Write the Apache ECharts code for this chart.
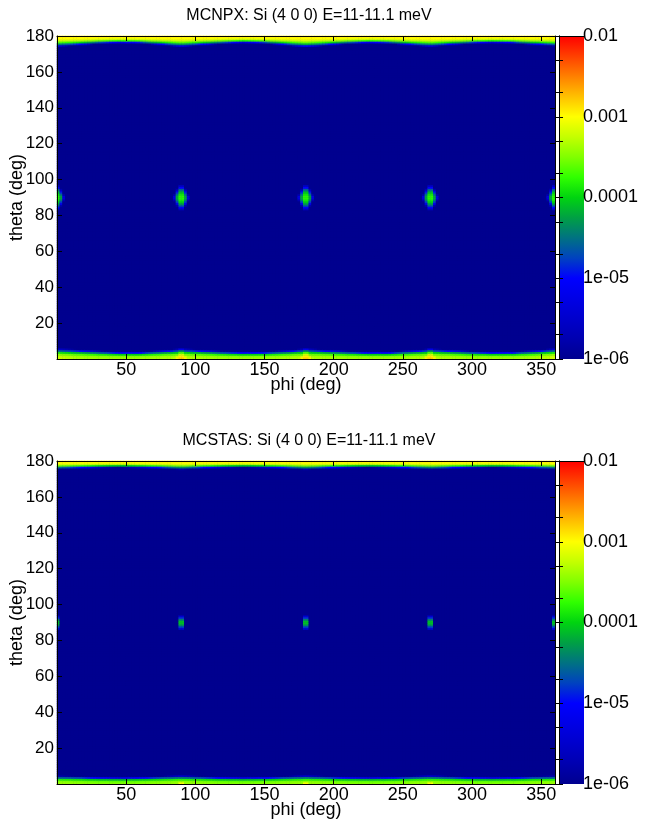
<!DOCTYPE html>
<html>
<head>
<meta charset="utf-8">
<script src="https://cdn.jsdelivr.net/npm/echarts@6/dist/echarts.min.js"></script>
<style>
  html, body { margin: 0; padding: 0; background: #fff; }
  #chart { width: 650px; height: 825px; }
</style>
</head>
<body>
<div id="chart"></div>
<script>
// colour scale is log10 of the intensity, 1e-06 .. 0.01
const logMin = -6, logMax = -2;
const background = -6.05;
const colorbarLabels = ['1e-06', '1e-05', '0.0001', '0.001', '0.01'];
const colorbarMinor = [-6, -5.699, -5.301, -5, -4.699, -4.301, -4, -3.699, -3.301, -3, -2.699, -2.301, -2];
const jetColors = ['#00008f', '#0000b0', '#0000cc', '#0000e6', '#0000ff', '#0042c0', '#007282', '#00a044',
  '#00d410', '#30ff00', '#80ff00', '#c4ff00', '#ffff00', '#ffc000', '#ff8000', '#ff4000', '#ff0000'];

const titles = ['MCNPX: Si (4 0 0) E=11-11.1 meV', 'MCSTAS: Si (4 0 0) E=11-11.1 meV'];

// band profiles near theta=180 / theta=0, sampled every 15 deg of phi (depth in deg, peak in log10)
const phiKnots = [0, 15, 30, 45, 60, 75, 90, 105, 120, 135, 150, 165, 180, 195, 210, 225, 240, 255, 270, 285, 300, 315, 330, 345, 360];
const mcnpxTopDepth = [5.5, 4.8, 3.8, 3.4, 3.6, 4.6, 5.6, 4.7, 3.8, 3.3, 3.7, 4.8, 5.8, 4.9, 3.9, 3.4, 3.7, 4.7, 5.5, 4.6, 3.7, 3.3, 3.6, 4.5, 5.2];
const mcnpxTopPeak = [-2.95, -2.95, -2.95, -2.95, -2.95, -2.95, -2.95, -2.95, -2.95, -2.95, -2.95, -2.95, -2.95, -2.95, -2.95, -2.95, -2.95, -2.95, -2.95, -2.95, -2.95, -2.95, -2.95, -2.95, -2.95];
const mcnpxBottomDepth = [5.5, 5.0, 4.2, 3.6, 3.6, 4.4, 5.5, 4.8, 4.0, 3.6, 3.7, 4.4, 5.5, 4.8, 4.1, 3.6, 3.6, 4.4, 5.4, 4.8, 4.0, 3.6, 3.7, 4.5, 5.5];
const mcnpxBottomPeak = [-3.2, -3.35, -3.4, -3.4, -3.4, -3.35, -3.3, -3.35, -3.4, -3.4, -3.4, -3.35, -3.3, -3.35, -3.4, -3.4, -3.4, -3.35, -3.3, -3.35, -3.4, -3.4, -3.4, -3.35, -3.2];
const mcstasTopDepth = [4.0, 3.6, 3.2, 3.0, 3.2, 3.6, 4.2, 3.6, 3.2, 3.0, 3.2, 3.6, 4.2, 3.6, 3.2, 3.0, 3.2, 3.6, 4.1, 3.6, 3.2, 3.0, 3.2, 3.6, 4.0];
const mcstasTopPeak = [-2.95, -2.95, -2.95, -2.95, -2.95, -2.95, -2.95, -2.95, -2.95, -2.95, -2.95, -2.95, -2.95, -2.95, -2.95, -2.95, -2.95, -2.95, -2.95, -2.95, -2.95, -2.95, -2.95, -2.95, -2.95];
const mcstasBottomDepth = [4.2, 4.0, 3.6, 3.4, 3.6, 4.0, 4.4, 4.0, 3.6, 3.4, 3.6, 4.0, 4.4, 4.0, 3.6, 3.4, 3.6, 4.0, 4.4, 4.0, 3.6, 3.4, 3.6, 4.0, 4.2];
const mcstasBottomPeak = [-3.4, -3.45, -3.5, -3.5, -3.5, -3.45, -3.4, -3.45, -3.5, -3.5, -3.5, -3.45, -3.4, -3.45, -3.5, -3.5, -3.5, -3.45, -3.4, -3.45, -3.5, -3.5, -3.5, -3.45, -3.4];

// spots: [phi, theta, peak log10, half width phi, half width theta]
const mcnpxSpots = [
  [0, 90, -3.75, 6, 8], [90, 90, -3.75, 6, 8], [180, 90, -3.75, 6, 8], [270, 90, -3.75, 6, 8], [360, 90, -3.75, 6, 8],
  [90, 0, -2.8, 12, 6.5], [180, 0, -2.8, 12, 6.5], [270, 0, -2.8, 12, 6.5]
];
const mcstasSpots = [
  [0, 90, -3.9, 3, 5.5], [90, 90, -3.9, 3, 5.5], [180, 90, -3.9, 3, 5.5], [270, 90, -3.9, 3, 5.5], [360, 90, -3.9, 3, 5.5],
  [90, 0, -2.9, 6, 4], [180, 0, -2.9, 6, 4], [270, 0, -2.9, 6, 4]
];

const phiStep = 2, thetaStep = 1;
const phiCentres = [], thetaCentres = [];
for (let p = phiStep / 2; p < 360; p += phiStep) phiCentres.push(p);
for (let t = thetaStep / 2; t < 180; t += thetaStep) thetaCentres.push(t);

function atPhi(arr, phi) {
  const step = phiKnots[1] - phiKnots[0];
  const i = Math.min(Math.floor(phi / step), phiKnots.length - 2);
  const f = (phi - phiKnots[i]) / step;
  return arr[i] * (1 - f) + arr[i + 1] * f;
}
function falloff(peak, t) {
  if (t >= 1) return background;
  return peak - (peak - background) * Math.pow(t, 2.5);
}
function buildField(d) {
  const out = [];
  phiCentres.forEach((phi, i) => {
    const tDepth = atPhi(d.topDepth, phi), tPeak = atPhi(d.topPeak, phi);
    const bDepth = atPhi(d.bottomDepth, phi), bPeak = atPhi(d.bottomPeak, phi);
    thetaCentres.forEach((th, j) => {
      let v = background;
      v = Math.max(v, falloff(tPeak, (180 - thetaStep / 2 - th) / tDepth));
      v = Math.max(v, falloff(bPeak, (th - thetaStep / 2) / bDepth));
      d.spots.forEach(s => {
        const dx = Math.abs(phi - s[0]) / s[3], dy = Math.abs(th - s[1]) / s[4];
        const t = Math.pow(Math.pow(dx, 1.2) + Math.pow(dy, 1.2), 1 / 1.2);
        v = Math.max(v, falloff(s[2], t));
      });
      out.push([i, j, v]);
    });
  });
  return out;
}

const fields = [
  buildField({topDepth: mcnpxTopDepth, topPeak: mcnpxTopPeak, bottomDepth: mcnpxBottomDepth, bottomPeak: mcnpxBottomPeak, spots: mcnpxSpots}),
  buildField({topDepth: mcstasTopDepth, topPeak: mcstasTopPeak, bottomDepth: mcstasBottomDepth, bottomPeak: mcstasBottomPeak, spots: mcstasSpots})
];

const font = 'Liberation Sans';
const plotLeft = 57, plotWidth = 498, cbLeft = 559, cbWidth = 25;
const plotTops = [36, 461], plotHeight = 323;

let option = {
  animation: false,
  title: [], grid: [], xAxis: [], yAxis: [], series: [], graphic: [],
  visualMap: {
    type: 'continuous', show: false, min: logMin, max: logMax, seriesIndex: [0, 1],
    inRange: { color: jetColors }
  }
};

const lineStyle = { color: '#000', width: 1 };
plotTops.forEach((top, g) => {
  option.title.push({
    text: titles[g], left: plotLeft + plotWidth / 2 - 2, textAlign: 'center', top: top - 33,
    textStyle: { fontFamily: font, fontSize: 16, fontWeight: 'normal', color: '#000' }
  });
  // navy background hides the hairline seams between heatmap cells
  option.grid.push({ left: plotLeft, top: top, width: plotWidth, height: plotHeight, outerBoundsMode: 'none',
    show: true, backgroundColor: jetColors[0], borderWidth: 0 });
  option.grid.push({ left: cbLeft, top: top, width: cbWidth, height: plotHeight, outerBoundsMode: 'none' });
  const pg = 2 * g, cg = 2 * g + 1;
  const x0 = option.xAxis.length, y0 = option.yAxis.length;
  // hidden category axes carry the heatmap cells
  option.xAxis.push({ type: 'category', gridIndex: pg, data: phiCentres.map(String), show: false });
  option.yAxis.push({ type: 'category', gridIndex: pg, data: thetaCentres.map(String), show: false });
  // visible value axes for ticks and labels
  option.xAxis.push({
    type: 'value', gridIndex: pg, min: 0, max: 360, interval: 50, position: 'bottom', z: 5,
    name: 'phi (deg)', nameLocation: 'middle', nameGap: 17, nameMoveOverlap: false,
    nameTextStyle: { fontFamily: font, fontSize: 18, color: '#000' },
    axisLine: { lineStyle }, splitLine: { show: false },
    axisTick: { inside: true, length: 5, lineStyle },
    axisLabel: { showMinLabel: false, showMaxLabel: false, margin: 2, fontFamily: font, fontSize: 18, color: '#000' }
  });
  option.xAxis.push({
    type: 'value', gridIndex: pg, min: 0, max: 360, interval: 50, position: 'top', z: 5,
    axisLine: { lineStyle }, splitLine: { show: false },
    axisTick: { inside: true, length: 5, lineStyle }, axisLabel: { show: false }
  });
  option.yAxis.push({
    type: 'value', gridIndex: pg, min: 0, max: 180, interval: 20, position: 'left', z: 5,
    name: 'theta (deg)', nameLocation: 'middle', nameGap: 31, nameMoveOverlap: false,
    nameTextStyle: { fontFamily: font, fontSize: 18, color: '#000' },
    axisLine: { lineStyle }, splitLine: { show: false },
    axisTick: { inside: true, length: 5, lineStyle },
    axisLabel: { showMinLabel: false, margin: 3, fontFamily: font, fontSize: 17, color: '#000' }
  });
  option.yAxis.push({
    type: 'value', gridIndex: pg, min: 0, max: 180, interval: 20, position: 'right', z: 5,
    axisLine: { lineStyle }, splitLine: { show: false },
    axisTick: { inside: true, length: 5, lineStyle }, axisLabel: { show: false }
  });
  // colour bar axes (log10 space)
  option.xAxis.push({ type: 'value', gridIndex: cg, min: 0, max: 1, show: false });
  const cbAxis = (pos, labels) => ({
    type: 'value', gridIndex: cg, min: logMin, max: logMax, interval: 1, position: pos, z: 10,
    axisLine: { show: true, lineStyle }, splitLine: { show: false },
    axisTick: { inside: true, length: 4, customValues: colorbarMinor, lineStyle },
    axisLabel: labels ? {
      margin: -1, fontFamily: font, fontSize: 18, color: '#000',
      formatter: v => colorbarLabels[Math.round(v) - logMin]
    } : { show: false }
  });
  option.yAxis.push(cbAxis('right', true));
  option.yAxis.push(cbAxis('left', false));
  option.xAxis.push({ type: 'value', gridIndex: cg, min: 0, max: 1, position: 'top', show: true,
    axisLine: { lineStyle }, axisTick: { show: false }, axisLabel: { show: false }, splitLine: { show: false }, z: 10 });

  option.series.push({
    type: 'heatmap', xAxisIndex: x0, yAxisIndex: y0, data: fields[g],
    progressive: 0, emphasis: { disabled: true }, itemStyle: { borderWidth: 0 }
  });
  option.graphic.push({
    type: 'rect', z: 1,
    shape: { x: cbLeft, y: top, width: cbWidth, height: plotHeight },
    style: {
      fill: {
        type: 'linear', x: 0, y: 1, x2: 0, y2: 0,
        colorStops: jetColors.map((c, k) => ({ offset: k / (jetColors.length - 1), color: c }))
      }
    }
  });
});

const chart = echarts.init(document.getElementById('chart'), null, { renderer: 'canvas' });
chart.setOption(option);
</script>
</body>
</html>
